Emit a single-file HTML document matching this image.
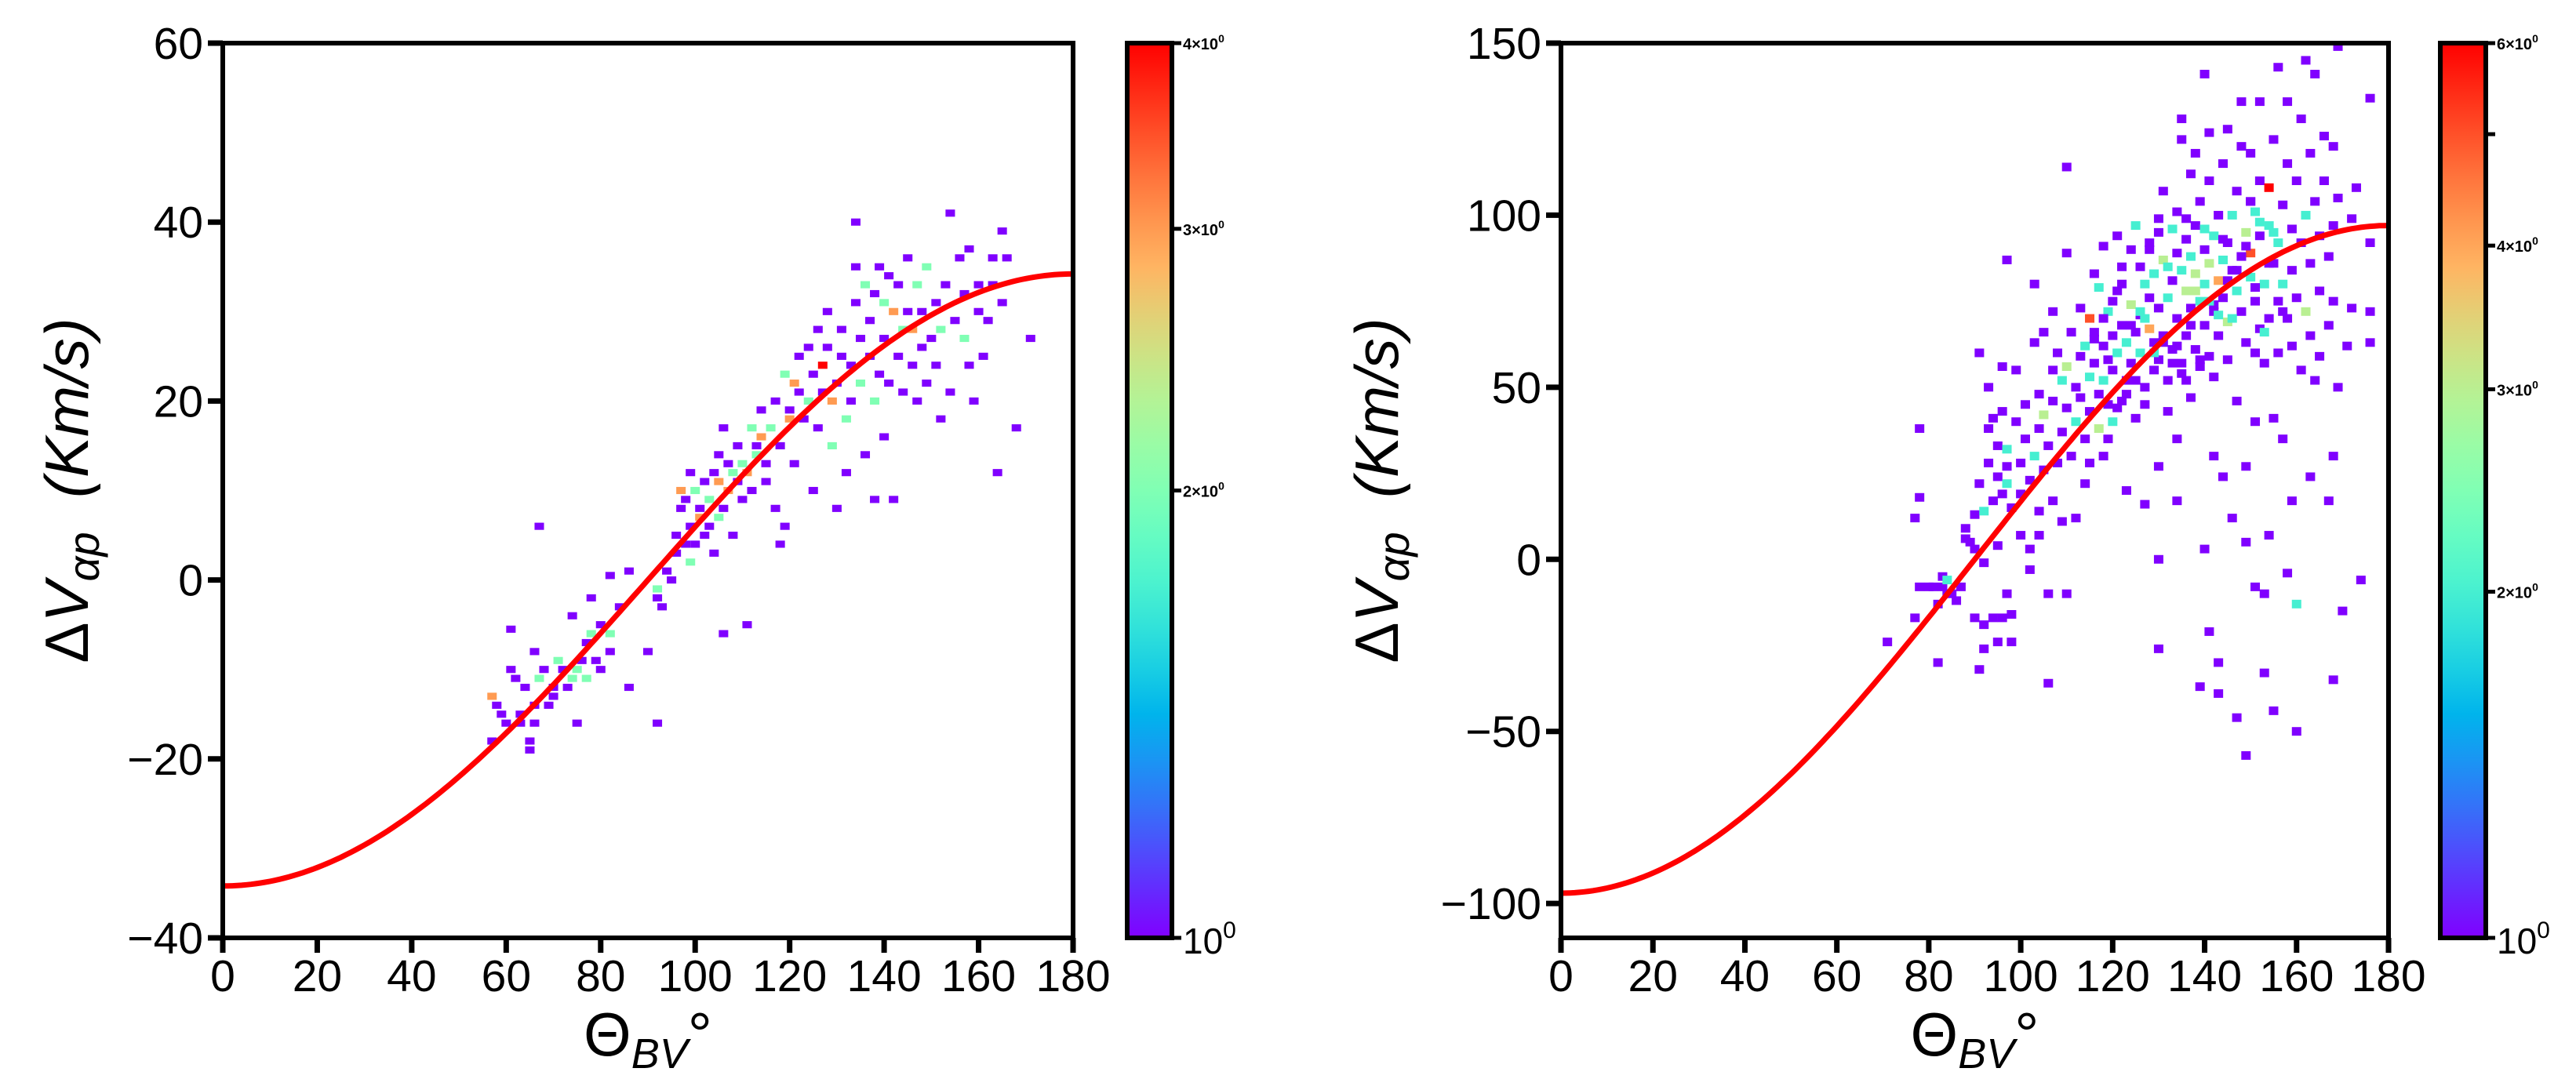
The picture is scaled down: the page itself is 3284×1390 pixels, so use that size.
<!DOCTYPE html>
<html><head><meta charset="utf-8">
<style>
html,body{margin:0;padding:0;background:#fff;}
svg{display:block;}
text{font-family:"Liberation Sans","DejaVu Sans",sans-serif;fill:#000;}
</style></head>
<body>
<svg id="fig" width="3284" height="1390" viewBox="0 0 3284 1390" xmlns="http://www.w3.org/2000/svg"></svg>
<script>
// ---- Left panel data: [theta deg, dV, count] ----
const leftX=[57,57,58,59,60,61,61,62,63,63,64,65,65,66,66,66,67,67,68,69,70,70,71,72,73,74,75,75,74,76,77,77,78,78,79,80,80,82,82,82,84,86,86,90,92,92,92,93,94,95,96,96,97,97,98,98,99,99,99,100,100,101,101,102,102,103,103,104,104,105,105,105,106,106,106,107,107,108,108,109,109,110,110,111,111,112,112,113,113,114,114,115,115,116,117,117,118,118,119,119,120,120,121,121,122,122,123,124,124,125,125,126,126,127,127,128,128,129,129,130,130,131,131,132,132,133,133,134,134,134,135,135,136,136,137,137,138,138,138,139,139,140,140,140,141,141,142,142,143,143,144,144,145,145,146,146,147,147,148,148,149,149,150,151,151,152,152,153,154,154,155,156,157,157,158,158,159,160,160,161,162,163,163,164,165,165,166,168,171];
const leftY=[-18,-13,-14,-15,-16,-5.5,-10,-11,-15,-16,-12,-19,-18,-14,-8,-16,-11,6,-10,-14,-12,-13,-9,-10,-12,-11,-10,-16,-4,-9,-7,-11,-6,-2,-9,-10,-5,-8,-6,0.5,-3,1,-12,-8,-16,-1,-2,-3,1,0,3,5,8,10,9,4,2,6,12,4,10,7,8,11,5,6,9,3,12,11,14,7,8,17,-6,13,10,12,5,15,11,13,9,-5,12,17,10,15,14,19,16,13,11,17,20,8,15,4,23,6,18,19,22,13,25,21,18,20,26,23,10,28,17,24,21,26,30,20,15,22,8,25,28,18,12,24,20,35,31,40,27,22,33,14,25,29,32,20,9,35,23,27,31,16,34,22,30,9,25,33,21,28,36,30,24,28,33,20,26,30,35,22,27,31,24,18,28,33,41,21,29,36,32,27,37,24,20,30,33,25,29,36,33,12,39,31,36,17,27];
const leftC=[1,3,1,1,1,1,1,1,1,1,1,1,1,1,1,1,2,1,1,1,1,1,2,1,1,2,2,1,1,1,1,2,2,1,1,1,1,1,2,1,1,1,1,1,1,2,1,1,1,1,1,1,1,3,1,1,2,1,1,1,2,3,1,1,1,1,2,1,1,3,1,2,1,1,1,1,3,2,1,1,1,2,1,1,3,2,1,1,2,1,3,1,1,2,1,1,1,1,2,1,3,1,3,1,1,1,1,2,1,1,1,1,1,4,1,1,1,3,2,1,1,1,1,2,1,1,1,1,1,1,1,2,2,1,1,1,1,2,1,1,1,1,2,1,1,1,3,1,1,1,1,2,1,1,1,3,2,1,1,1,2,1,1,1,1,1,2,1,1,1,1,1,1,2,1,1,1,1,1,1,1,1,1,1,1,1,1,1,1];
// ---- Right panel data ----
const rightX=[71,77,78,78,77,78,80,81,82,82,83,83,84,84,85,86,87,88,88,89,90,90,90,91,91,91,92,92,92,92,93,93,93,94,94,94,95,95,95,95,96,96,96,96,97,97,97,97,97,98,98,98,99,99,100,100,100,101,101,102,102,102,103,103,103,104,104,104,104,105,105,105,106,106,106,107,107,107,107,108,108,109,109,109,110,110,110,110,110,111,111,112,112,112,113,113,113,114,114,114,115,115,115,115,116,116,116,117,117,117,118,118,118,118,119,119,119,120,120,120,121,121,121,122,122,122,123,123,123,124,124,124,125,125,125,126,126,126,127,127,127,127,128,128,128,129,129,129,130,130,130,130,130,130,131,131,131,132,132,132,133,133,133,134,134,134,134,134,135,135,135,135,136,136,136,136,137,137,137,137,138,138,138,138,139,139,139,139,140,140,140,140,140,141,141,141,141,141,142,142,142,142,143,143,143,143,143,144,144,144,144,145,145,145,145,146,146,146,147,147,147,147,148,148,148,148,149,149,149,149,149,150,150,150,150,151,151,151,151,151,152,152,152,152,153,153,153,153,154,154,154,154,155,155,155,155,156,156,156,156,157,157,157,158,158,158,158,159,159,159,159,160,160,160,160,161,161,161,162,162,162,163,163,163,163,164,164,164,165,165,165,166,166,167,167,167,168,168,168,168,168,169,169,169,170,171,172,172,173,174,176,176,176,176,
 116,118,120,122,124,126,128,130,132,134,136,138,140,142,144,146,148,150,152,154,121,125,129,133,137,141,145,149,153,157,119,123,127,131,135,139,143,147,151,155];
const rightY=[-24,12,18,38,-17,-8,-8,-8,-13,-30,-5,-8,-10,-6,-10,-12,-8,6,9,5,3,13,-17,22,60,-32,-1,14,-26,-19,28,38,50,17,41,-17,33,24,4,-24,19,43,56,-17,22,27,32,-10,87,15,-16,-24,40,55,19,28,7,35,45,23,3,-3,30,63,80,38,48,14,7,42,26,66,33,-10,-36,46,17,55,72,28,60,37,52,11,44,56,89,-10,114,30,66,40,50,12,47,59,73,35,62,22,53,43,70,28,57,83,66,38,48,79,52,62,30,91,45,72,58,55,65,40,60,78,94,68,46,85,63,52,20,57,74,90,66,41,97,71,60,85,50,80,45,16,67,76,92,55,83,63,58,73,99,27,0,-26,87,65,107,52,76,43,81,96,61,70,89,101,35,17,57,84,122,128,78,65,93,52,88,112,73,47,61,83,97,118,75,56,104,-37,80,90,68,141,3,59,86,110,124,-21,72,94,53,30,81,100,65,-30,-39,87,76,115,24,69,92,58,125,84,100,12,78,107,46,-46,88,72,120,133,95,63,27,5,-57,82,104,89,118,75,101,60,40,-8,94,110,67,133,80,57,-10,-33,97,108,70,7,86,122,41,-44,75,92,60,143,103,80,35,115,70,133,-4,96,84,62,17,110,76,-13,-50,92,55,128,100,72,145,86,118,65,24,104,52,141,94,78,59,110,123,88,68,17,97,75,120,30,-35,105,149,50,-15,62,99,73,108,-6,72,63,92,134,
 64,70,75,80,68,72,90,95,85,62,99,78,96,74,93,70,88,104,98,86,44,52,60,57,68,75,81,91,66,72,35,48,70,63,54,58,71,84,79,95];
const rightC=[1,1,1,1,1,1,1,1,1,1,1,1,1,2,1,1,1,1,1,1,1,1,1,1,1,1,1,2,1,1,1,1,1,1,1,1,1,1,1,1,1,1,1,1,2,1,2,1,1,1,1,1,1,1,1,1,1,1,1,1,1,1,2,1,1,1,1,1,1,3,1,1,1,1,1,1,1,1,1,1,1,1,2,1,1,3,1,1,1,1,1,2,1,1,1,1,1,1,2,1,2,1,5,1,1,1,1,3,1,2,2,1,1,1,1,2,1,1,1,2,2,1,1,1,1,1,2,1,1,1,3,1,1,1,2,1,2,1,1,2,1,1,4,1,1,1,2,1,1,1,1,1,1,1,3,1,1,1,2,1,1,2,1,1,1,1,1,1,1,2,1,1,3,1,1,1,2,1,1,1,1,3,1,1,2,1,1,1,2,1,1,1,1,1,3,1,1,1,1,2,1,1,4,1,1,1,1,2,1,1,1,3,1,1,1,1,2,1,2,1,1,1,1,1,1,1,3,1,1,1,1,2,1,5,1,1,2,1,1,1,1,1,1,1,2,1,1,1,2,6,1,1,1,1,1,1,1,2,1,1,1,2,1,1,1,1,1,1,1,1,1,1,1,2,1,1,1,1,2,3,1,1,1,1,1,1,1,1,1,1,1,1,1,1,1,1,1,1,1,1,1,1,1,1,1,1,1,1,1,1,1,1,1,1,1,1,1,1,
 1,2,1,1,2,1,1,3,2,1,1,2,1,1,2,1,1,1,2,1,1,2,1,1,2,1,1,1,2,1,1,1,2,1,1,2,1,1,2,1];
const leftYTicks=[-40,-20,0,20,40,60];
const rightYTicks=[-100,-50,0,50,100,150];
const xTicks=[0,20,40,60,80,100,120,140,160,180];
const leftAmp=[34.2];
const rightAmp=[97];
const leftCbTicks=[1,2,3,4];
const rightCbTicks=[1,2,3,4,5,6];

const NS="http://www.w3.org/2000/svg";
const svg=document.getElementById('fig');
function mk(tag,attrs,parent){const e=document.createElementNS(NS,tag);for(const k in attrs)e.setAttribute(k,attrs[k]);(parent||svg).appendChild(e);return e;}
function rainbow(t){const r=Math.min(1,Math.abs(2*t-0.5)),g=Math.sin(Math.PI*t),b=Math.max(0,Math.cos(Math.PI*t/2));
  return `rgb(${Math.round(r*255)},${Math.round(g*255)},${Math.round(b*255)})`;}

function panel(o){
  const g=mk('g',{});
  
  
  const sx=v=>o.x0+(v-0)/(180)*(o.x1-o.x0);
  const sy=v=>o.y1-(v-o.ymin)/(o.ymax-o.ymin)*(o.y1-o.y0);
  const cmax=Math.log(o.cmax);
  const cg=mk('g',{},g);
  
  
  for(let i=0;i<o.X.length;i++){
    const w=sx(o.X[i]+o.bw)-sx(o.X[i]), h=sy(o.Y[i])-sy(o.Y[i]+o.bh);
    const x=sx(o.X[i])-w/2, y=sy(o.Y[i])-h/2;
    const r=mk('rect',{x:x,y:y,width:w,height:h,fill:rainbow(Math.min(1,Math.log(o.C[i])/cmax))},cg);
    
    
  }
  let d='';
  for(let t=0;t<=180;t+=1){const v=-o.amp*Math.cos(t*Math.PI/180);d+=(t?'L':'M')+sx(t).toFixed(1)+' '+sy(v).toFixed(1);}
  const p=mk('path',{d:d,fill:'none',stroke:'#ff0000','stroke-width':7},g);
  
  
  const f=mk('rect',{x:o.x0,y:o.y0,width:o.x1-o.x0,height:o.y1-o.y0,fill:'none',stroke:'#000','stroke-width':6},g);
  
  
  xTicks.forEach(v=>{
    mk('line',{x1:sx(v),x2:sx(v),y1:o.y1,y2:o.y1+19,stroke:'#000','stroke-width':7},g);
    const t=mk('text',{x:sx(v),y:o.y1+68,'text-anchor':'middle','font-size':57},g);
    t.textContent=v;
    
    
  });
  o.yt.forEach(v=>{
    mk('line',{x1:o.x0-19,x2:o.x0,y1:sy(v),y2:sy(v),stroke:'#000','stroke-width':7},g);
    const t=mk('text',{x:o.x0-25,y:sy(v)+20,'text-anchor':'end','font-size':57},g);
    t.textContent=(v<0?'\u2212'+(-v):v);
    
    
  });
  const xl=mk('text',{x:(o.x0+o.x1)/2,y:1346,'text-anchor':'middle','font-size':78},g);
  xl.innerHTML='\u0398<tspan font-size="54" font-style="italic" dy="16">BV</tspan><tspan dy="-16">\u00b0</tspan>';
  
  
  const yl=mk('text',{x:0,y:0,'text-anchor':'middle','font-size':78,transform:`translate(${o.ylx},${(o.y0+o.y1)/2}) rotate(-90)`},g);
  yl.innerHTML='\u0394<tspan font-style="italic">V</tspan><tspan font-size="56" font-style="italic" dy="14">\u03b1p</tspan><tspan dy="-14" font-style="italic">\u00a0 (Km/s)</tspan>';
  
  
  const gid='grad'+o.name;
  const defs=mk('defs',{},g);
  const lg=mk('linearGradient',{id:gid,x1:0,y1:1,x2:0,y2:0},defs);
  for(let k=0;k<=20;k++){mk('stop',{offset:k/20,'stop-color':rainbow(k/20)},lg);}
  const cb=mk('rect',{x:o.cb0,y:o.y0,width:o.cb1-o.cb0,height:o.y1-o.y0,fill:`url(#${gid})`,stroke:'#000','stroke-width':6},g);
  
  
  const cy=v=>o.y1-Math.log(v)/cmax*(o.y1-o.y0);
  o.cbt.forEach(v=>{
    mk('line',{x1:o.cb1,x2:o.cb1+12,y1:cy(v),y2:cy(v),stroke:'#000','stroke-width':5},g);
    if(v===1){
      const t=mk('text',{x:o.cb1+14,y:cy(v)+20,'font-size':46},g);
      t.innerHTML='10<tspan font-size="30" dy="-20">0</tspan>';
      
      
    } else if(o.lab.includes(v)){
      const t=mk('text',{x:o.cb1+14,y:cy(v)+8,'font-size':20,'font-weight':'bold'},g);
      t.innerHTML=v+'\u00d710<tspan font-size="14" dy="-9">0</tspan>';
      
      
    }
  });
}
panel({name:'left-panel',X:leftX,Y:leftY,C:leftC,x0:284,x1:1368,y0:55,y1:1196,ymin:-40,ymax:60,yt:leftYTicks,amp:leftAmp[0],bw:2.0,bh:0.8,cmax:4,cb0:1437,cb1:1494,cbt:leftCbTicks,lab:[2,3,4],ylx:112});
panel({name:'right-panel',X:rightX,Y:rightY,C:rightC,x0:1990,x1:3045,y0:55,y1:1196,ymin:-110,ymax:150,yt:rightYTicks,amp:rightAmp[0],bw:2.05,bh:2.5,cmax:6,cb0:3111,cb1:3169,cbt:rightCbTicks,lab:[2,3,4,6],ylx:1782});
</script>
</body></html>
